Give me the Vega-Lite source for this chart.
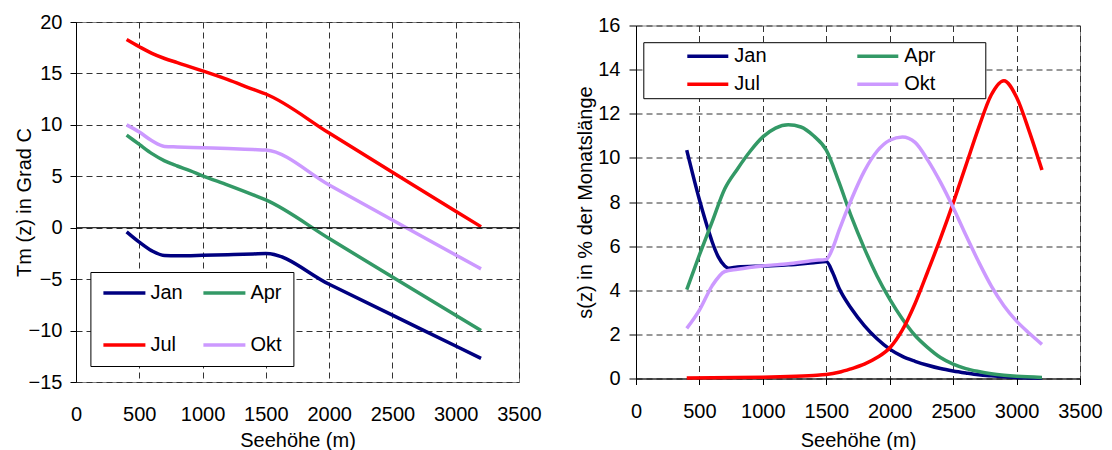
{
  "$schema": "https://vega.github.io/schema/vega-lite/v6.json",
  "padding": {"left": 13, "top": 11, "right": 5, "bottom": 0},
  "background": "white",
  "spacing": 117,
  "bounds": "flush",
  "center": true,
  "config": {
    "font": "Liberation Sans",
    "view": {"stroke": "#808080", "strokeWidth": 1},
    "axis": {
      "labelFont": "Liberation Sans", "titleFont": "Liberation Sans",
      "labelFontSize": 20, "titleFontSize": 20, "titleFontWeight": "normal",
      "labelColor": "black", "titleColor": "black",
      "gridColor": "#333333", "gridDash": [6, 4], "gridWidth": 1, "gridOpacity": 1,
      "domainColor": "black", "tickColor": "black", "domainWidth": 1,
      "labelOverlap": false, "labelFlush": false, "format": "d"
    },
    "legend": {"labelFont": "Liberation Sans", "labelFontSize": 20, "labelColor": "black", "titleFont": "Liberation Sans", "titleFontSize": 20}
  },
  "datasets": {
    "temp": [
      {"m": "Jan", "z": 400, "v": -0.4}, {"m": "Jan", "z": 500, "v": -1.4}, {"m": "Jan", "z": 600, "v": -2.25}, {"m": "Jan", "z": 700, "v": -2.7}, {"m": "Jan", "z": 800, "v": -2.72}, {"m": "Jan", "z": 1000, "v": -2.68}, {"m": "Jan", "z": 1200, "v": -2.62}, {"m": "Jan", "z": 1400, "v": -2.55}, {"m": "Jan", "z": 1500, "v": -2.5}, {"m": "Jan", "z": 2000, "v": -5.5}, {"m": "Jan", "z": 2500, "v": -8.5}, {"m": "Jan", "z": 3000, "v": -11.5}, {"m": "Jan", "z": 3200, "v": -12.7},
      {"m": "Apr", "z": 400, "v": 9.0}, {"m": "Apr", "z": 500, "v": 8.1}, {"m": "Apr", "z": 600, "v": 7.2}, {"m": "Apr", "z": 700, "v": 6.5}, {"m": "Apr", "z": 800, "v": 6.0}, {"m": "Apr", "z": 900, "v": 5.55}, {"m": "Apr", "z": 1000, "v": 5.05}, {"m": "Apr", "z": 1200, "v": 4.15}, {"m": "Apr", "z": 1400, "v": 3.2}, {"m": "Apr", "z": 1500, "v": 2.7}, {"m": "Apr", "z": 2000, "v": -1.05}, {"m": "Apr", "z": 2500, "v": -4.8}, {"m": "Apr", "z": 3000, "v": -8.5}, {"m": "Apr", "z": 3200, "v": -10.0},
      {"m": "Jul", "z": 400, "v": 18.3}, {"m": "Jul", "z": 500, "v": 17.6}, {"m": "Jul", "z": 600, "v": 16.95}, {"m": "Jul", "z": 700, "v": 16.45}, {"m": "Jul", "z": 800, "v": 16.05}, {"m": "Jul", "z": 1000, "v": 15.25}, {"m": "Jul", "z": 1200, "v": 14.4}, {"m": "Jul", "z": 1400, "v": 13.45}, {"m": "Jul", "z": 1500, "v": 13.0}, {"m": "Jul", "z": 2000, "v": 9.2}, {"m": "Jul", "z": 2500, "v": 5.4}, {"m": "Jul", "z": 3000, "v": 1.6}, {"m": "Jul", "z": 3200, "v": 0.1},
      {"m": "Okt", "z": 400, "v": 10.0}, {"m": "Okt", "z": 500, "v": 9.3}, {"m": "Okt", "z": 600, "v": 8.45}, {"m": "Okt", "z": 700, "v": 7.9}, {"m": "Okt", "z": 800, "v": 7.85}, {"m": "Okt", "z": 1000, "v": 7.78}, {"m": "Okt", "z": 1200, "v": 7.7}, {"m": "Okt", "z": 1400, "v": 7.6}, {"m": "Okt", "z": 1500, "v": 7.55}, {"m": "Okt", "z": 2000, "v": 4.15}, {"m": "Okt", "z": 2500, "v": 0.75}, {"m": "Okt", "z": 3000, "v": -2.65}, {"m": "Okt", "z": 3200, "v": -4.0}
    ],
    "share": [
      {"m": "Jan", "z": 400, "v": 10.35}, {"m": "Jan", "z": 500, "v": 8.1}, {"m": "Jan", "z": 577, "v": 6.6}, {"m": "Jan", "z": 600, "v": 6.2}, {"m": "Jan", "z": 650, "v": 5.5}, {"m": "Jan", "z": 700, "v": 5.1}, {"m": "Jan", "z": 730, "v": 5.0}, {"m": "Jan", "z": 800, "v": 5.05}, {"m": "Jan", "z": 1000, "v": 5.1}, {"m": "Jan", "z": 1200, "v": 5.15}, {"m": "Jan", "z": 1400, "v": 5.25}, {"m": "Jan", "z": 1500, "v": 5.3}, {"m": "Jan", "z": 1550, "v": 4.8}, {"m": "Jan", "z": 1600, "v": 4.1}, {"m": "Jan", "z": 1700, "v": 3.15}, {"m": "Jan", "z": 1800, "v": 2.4}, {"m": "Jan", "z": 1900, "v": 1.8}, {"m": "Jan", "z": 2000, "v": 1.33}, {"m": "Jan", "z": 2100, "v": 1.0}, {"m": "Jan", "z": 2200, "v": 0.78}, {"m": "Jan", "z": 2300, "v": 0.6}, {"m": "Jan", "z": 2400, "v": 0.45}, {"m": "Jan", "z": 2500, "v": 0.34}, {"m": "Jan", "z": 2600, "v": 0.25}, {"m": "Jan", "z": 2700, "v": 0.17}, {"m": "Jan", "z": 2800, "v": 0.12}, {"m": "Jan", "z": 2900, "v": 0.08}, {"m": "Jan", "z": 3000, "v": 0.05}, {"m": "Jan", "z": 3200, "v": 0.02},
      {"m": "Apr", "z": 400, "v": 4.03}, {"m": "Apr", "z": 500, "v": 5.6}, {"m": "Apr", "z": 600, "v": 7.1}, {"m": "Apr", "z": 700, "v": 8.6}, {"m": "Apr", "z": 800, "v": 9.5}, {"m": "Apr", "z": 900, "v": 10.3}, {"m": "Apr", "z": 1000, "v": 10.95}, {"m": "Apr", "z": 1100, "v": 11.35}, {"m": "Apr", "z": 1200, "v": 11.5}, {"m": "Apr", "z": 1300, "v": 11.4}, {"m": "Apr", "z": 1400, "v": 11.0}, {"m": "Apr", "z": 1500, "v": 10.35}, {"m": "Apr", "z": 1600, "v": 8.9}, {"m": "Apr", "z": 1700, "v": 7.3}, {"m": "Apr", "z": 1800, "v": 5.9}, {"m": "Apr", "z": 1900, "v": 4.65}, {"m": "Apr", "z": 2000, "v": 3.6}, {"m": "Apr", "z": 2100, "v": 2.7}, {"m": "Apr", "z": 2200, "v": 1.95}, {"m": "Apr", "z": 2300, "v": 1.4}, {"m": "Apr", "z": 2400, "v": 0.95}, {"m": "Apr", "z": 2500, "v": 0.65}, {"m": "Apr", "z": 2600, "v": 0.45}, {"m": "Apr", "z": 2700, "v": 0.32}, {"m": "Apr", "z": 2800, "v": 0.22}, {"m": "Apr", "z": 2900, "v": 0.15}, {"m": "Apr", "z": 3000, "v": 0.1}, {"m": "Apr", "z": 3200, "v": 0.05},
      {"m": "Jul", "z": 400, "v": 0.02}, {"m": "Jul", "z": 800, "v": 0.04}, {"m": "Jul", "z": 1000, "v": 0.06}, {"m": "Jul", "z": 1200, "v": 0.09}, {"m": "Jul", "z": 1400, "v": 0.14}, {"m": "Jul", "z": 1500, "v": 0.18}, {"m": "Jul", "z": 1600, "v": 0.28}, {"m": "Jul", "z": 1700, "v": 0.45}, {"m": "Jul", "z": 1800, "v": 0.65}, {"m": "Jul", "z": 1900, "v": 0.95}, {"m": "Jul", "z": 2000, "v": 1.38}, {"m": "Jul", "z": 2100, "v": 2.2}, {"m": "Jul", "z": 2200, "v": 3.4}, {"m": "Jul", "z": 2300, "v": 4.85}, {"m": "Jul", "z": 2400, "v": 6.35}, {"m": "Jul", "z": 2500, "v": 7.95}, {"m": "Jul", "z": 2600, "v": 9.65}, {"m": "Jul", "z": 2700, "v": 11.35}, {"m": "Jul", "z": 2800, "v": 12.85}, {"m": "Jul", "z": 2900, "v": 13.5}, {"m": "Jul", "z": 3000, "v": 12.75}, {"m": "Jul", "z": 3100, "v": 11.2}, {"m": "Jul", "z": 3200, "v": 9.45},
      {"m": "Okt", "z": 400, "v": 2.27}, {"m": "Okt", "z": 500, "v": 3.1}, {"m": "Okt", "z": 600, "v": 4.2}, {"m": "Okt", "z": 700, "v": 4.85}, {"m": "Okt", "z": 800, "v": 4.95}, {"m": "Okt", "z": 1000, "v": 5.1}, {"m": "Okt", "z": 1200, "v": 5.2}, {"m": "Okt", "z": 1400, "v": 5.35}, {"m": "Okt", "z": 1500, "v": 5.4}, {"m": "Okt", "z": 1550, "v": 5.9}, {"m": "Okt", "z": 1600, "v": 6.7}, {"m": "Okt", "z": 1700, "v": 8.15}, {"m": "Okt", "z": 1800, "v": 9.4}, {"m": "Okt", "z": 1900, "v": 10.3}, {"m": "Okt", "z": 2000, "v": 10.8}, {"m": "Okt", "z": 2100, "v": 10.95}, {"m": "Okt", "z": 2200, "v": 10.7}, {"m": "Okt", "z": 2300, "v": 9.9}, {"m": "Okt", "z": 2400, "v": 8.9}, {"m": "Okt", "z": 2500, "v": 7.75}, {"m": "Okt", "z": 2600, "v": 6.5}, {"m": "Okt", "z": 2700, "v": 5.3}, {"m": "Okt", "z": 2800, "v": 4.2}, {"m": "Okt", "z": 2900, "v": 3.3}, {"m": "Okt", "z": 3000, "v": 2.6}, {"m": "Okt", "z": 3100, "v": 2.05}, {"m": "Okt", "z": 3200, "v": 1.55}
    ]
  },
  "resolve": {"scale": {"x": "independent", "y": "independent", "color": "independent"}, "legend": {"color": "independent"}},
  "hconcat": [
    {
      "width": 443, "height": 360,
      "layer": [
        {
          "data": {"name": "temp"},
          "mark": {"type": "line", "strokeWidth": 3.5, "interpolate": "monotone"},
          "encoding": {
            "x": {"field": "z", "type": "quantitative", "scale": {"domain": [0, 3500], "nice": false},
              "axis": {"values": [0, 500, 1000, 1500, 2000, 2500, 3000, 3500], "title": "Seehöhe (m)", "domain": false, "ticks": false, "tickSize": 0, "labelPadding": 22, "titlePadding": 6, "grid": true}},
            "y": {"field": "v", "type": "quantitative", "scale": {"domain": [-15, 20], "nice": false},
              "axis": {"values": [-15, -10, -5, 0, 5, 10, 15, 20], "title": "Tm (z) in Grad C", "tickSize": 6, "labelPadding": 8, "titlePadding": -6, "grid": true}},
            "color": {"field": "m", "type": "nominal",
              "scale": {"domain": ["Jan", "Apr", "Jul", "Okt"], "range": ["#000080", "#339966", "#FF0000", "#CC99FF"]},
              "legend": {"orient": "none", "direction": "horizontal", "legendX": 14.4, "legendY": 250, "columns": 2, "title": null, "symbolType": "stroke", "symbolSize": 1764, "symbolStrokeWidth": 3.5, "strokeColor": "black", "fillColor": "white", "padding": 11, "rowPadding": 32, "columnPadding": 18, "labelOffset": 3, "clipHeight": 20}}
          }
        },
        {
          "data": {"values": [{"v": 0}]},
          "mark": {"type": "rule", "color": "black", "strokeWidth": 1},
          "encoding": {"y": {"field": "v", "type": "quantitative"}}
        }
      ]
    },
    {
      "width": 444, "height": 353,
      "data": {"name": "share"},
      "mark": {"type": "line", "strokeWidth": 3.5, "interpolate": "monotone"},
      "encoding": {
        "x": {"field": "z", "type": "quantitative", "scale": {"domain": [0, 3500], "nice": false},
          "axis": {"values": [0, 500, 1000, 1500, 2000, 2500, 3000, 3500], "title": "Seehöhe (m)", "tickSize": 6, "labelPadding": 17, "titlePadding": 9, "grid": true}},
        "y": {"field": "v", "type": "quantitative", "scale": {"domain": [0, 16], "nice": false},
          "axis": {"values": [0, 2, 4, 6, 8, 10, 12, 14, 16], "title": "s(z) in % der Monatslänge", "tickSize": 7, "labelPadding": 9, "titlePadding": 2, "grid": true}},
        "color": {"field": "m", "type": "nominal",
          "scale": {"domain": ["Jan", "Apr", "Jul", "Okt"], "range": ["#000080", "#339966", "#FF0000", "#CC99FF"]},
          "legend": {"orient": "none", "direction": "horizontal", "legendX": 7.3, "legendY": 16.7, "columns": 2, "title": "\u00a0", "titleOrient": "left", "titlePadding": 38, "symbolType": "stroke", "symbolSize": 1681, "symbolStrokeWidth": 3.5, "strokeColor": "black", "fillColor": "white", "padding": 4, "rowPadding": 8, "columnPadding": 88, "labelOffset": 4, "clipHeight": 20,
            "labelExpr": "(datum.label == 'Apr' || datum.label == 'Okt') ? (datum.label + '\u2800\u2800\u2800') : datum.label"}}
      }
    }
  ]
}
